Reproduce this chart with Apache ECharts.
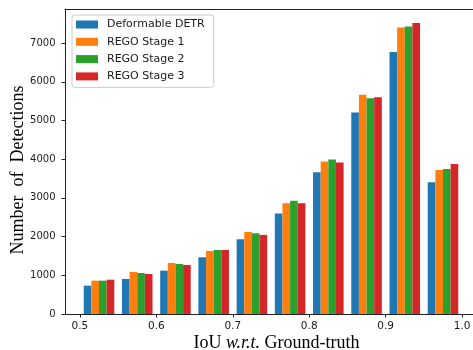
<!DOCTYPE html>
<html>
<head>
<meta charset="utf-8">
<script src="https://cdn.jsdelivr.net/npm/echarts@6/dist/echarts.min.js"></script>
<style>
  html, body { margin: 0; padding: 0; background: #fff; }
  #main { width: 473px; height: 350px; }
</style>
</head>
<body>
<div id="main"></div>
<script>
// IoU bins (centre of each group of four bars)
const binCenters = [0.525, 0.575, 0.625, 0.675, 0.725, 0.775, 0.825, 0.875, 0.925, 0.975];
const seriesNames = ["Deformable DETR", "REGO Stage 1", "REGO Stage 2", "REGO Stage 3"];
const deformableDetr = [732, 904, 1120, 1465, 1931, 2595, 3663, 5206, 6767, 3404];
const regoStage1 = [861, 1086, 1319, 1628, 2120, 2862, 3939, 5663, 7404, 3723];
const regoStage2 = [861, 1060, 1293, 1655, 2086, 2925, 3990, 5577, 7429, 3749];
const regoStage3 = [887, 1034, 1267, 1655, 2043, 2862, 3913, 5603, 7516, 3878];
const xTicks = [0.5, 0.6, 0.7, 0.8, 0.9, 1.0];
const yTicks = [0, 1000, 2000, 3000, 4000, 5000, 6000, 7000];
const colors = ["#1f77b4", "#ff7f0e", "#2ca02c", "#d62728"];

const allValues = [deformableDetr, regoStage1, regoStage2, regoStage3];

var myChart = echarts.init(document.getElementById("main"));

const series = allValues.map(function (vals, i) {
  return {
    name: seriesNames[i],
    type: "bar",
    barWidth: 7.64,
    barGap: "0%",
    itemStyle: { color: colors[i] },
    data: vals.map(function (v, k) {
      return [binCenters[k], v];
    }),
  };
});

myChart.setOption({
  animation: false,
  color: colors,
  textStyle: { fontFamily: "DejaVu Sans" },
  grid: {
    left: 65,
    top: 9,
    width: 412,
    height: 305,
    outerBoundsMode: "none",
    containLabel: false,
    show: false,
  },
  legend: {
    orient: "vertical",
    left: 72,
    top: 15,
    data: seriesNames,
    icon: "rect",
    itemWidth: 22,
    itemHeight: 8,
    itemGap: 4.3,
    padding: [3, 9, 4.5, 4],
    backgroundColor: "#fff",
    borderColor: "#cccccc",
    borderWidth: 1,
    borderRadius: 3,
    textStyle: {
      fontFamily: "DejaVu Sans",
      fontSize: 11,
      lineHeight: 13,
      color: "#1a1a1a",
      padding: [0, 0, 0, 4],
    },
  },
  xAxis: [
    {
      type: "value",
      min: 0.4805,
      max: 1.0195,
      name: "{n|IoU }{i|w.r.t.}{n| Ground-truth}",
      nameLocation: "middle",
      nameGap: 20,
      nameMoveOverlap: false,
      nameTextStyle: {
        padding: [0, 0, 0, 11],
        rich: {
          n: { fontFamily: "Liberation Serif", fontSize: 18, color: "#000" },
          i: { fontFamily: "Liberation Serif", fontSize: 18, fontStyle: "italic", color: "#000" },
        },
      },
      axisLine: { show: true, onZero: false, lineStyle: { color: "#222" } },
      axisTick: {
        show: true,
        length: 3.5,
        customValues: xTicks,
        lineStyle: { color: "#222" },
      },
      axisLabel: {
        customValues: xTicks,
        margin: 7,
        fontSize: 10.5,
        color: "#1a1a1a",
        formatter: function (v) {
          return v.toFixed(1);
        },
      },
      splitLine: { show: false },
    },
    {
      // top spine only
      type: "value",
      position: "top",
      min: 0.4805,
      max: 1.0195,
      axisLine: { show: true, onZero: false, lineStyle: { color: "#222" } },
      axisTick: { show: false },
      axisLabel: { show: false },
      splitLine: { show: false },
    },
  ],
  yAxis: {
    type: "value",
    min: 0,
    max: 7880,
    name: "Number  of  Detections",
    nameLocation: "middle",
    nameRotate: 90,
    nameGap: 38,
    nameMoveOverlap: false,
    nameTextStyle: {
      fontFamily: "Liberation Serif",
      fontSize: 18,
      color: "#000",
      padding: [0, 17, 0, 0],
    },
    axisLine: { show: true, lineStyle: { color: "#222" } },
    axisTick: {
      show: true,
      length: 3.5,
      customValues: yTicks,
      lineStyle: { color: "#222" },
    },
    axisLabel: {
      customValues: yTicks,
      margin: 9.5,
      fontSize: 10,
      color: "#1a1a1a",
      formatter: function (v) {
        return String(v);
      },
    },
    splitLine: { show: false },
  },
  series: series,
});
</script>
</body>
</html>
